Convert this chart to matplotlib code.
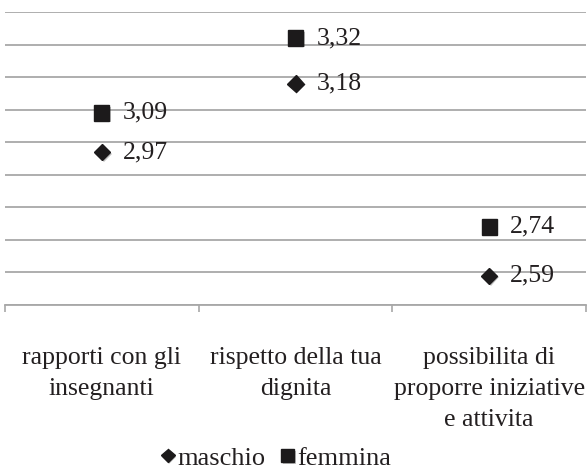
import matplotlib.pyplot as plt
import matplotlib.patheffects as pe
import numpy as np

plt.rcParams["font.family"] = ["Liberation Serif", "DejaVu Serif"]

categories = [
    "rapporti con gli\ninsegnanti",
    "rispetto della tua\ndignita",
    "possibilita di\nproporre iniziative\ne attivita",
]
maschio = [2.97, 3.18, 2.59]
femmina = [3.09, 3.32, 2.74]
series_labels = ["maschio", "femmina"]

TXT = "#231f20"
MK = "#1c1a1b"
GRID = "#a8a8a8"

fig = plt.figure(figsize=(5.87, 4.70), dpi=100)
ax = fig.add_axes([5 / 587, (470 - 305) / 470, 581 / 587, 293 / 470])

x = np.arange(len(categories))
shadow = [pe.SimplePatchShadow(offset=(1.2, -1.2), alpha=0.25), pe.Normal()]
ax.plot(x, maschio, linestyle="none", marker="D", ms=8.3, color=MK,
        label=series_labels[0], path_effects=shadow, zorder=3)
ax.plot(x, femmina, linestyle="none", marker="s", ms=11, color=MK,
        label=series_labels[1], path_effects=shadow, zorder=3)

for xi, v in zip(x, maschio):
    ax.annotate(f"{v:.2f}".replace(".", ","), (xi, v), xytext=(15, 0),
                textcoords="offset points", va="center", ha="left",
                fontsize=18.5, color=TXT)
for xi, v in zip(x, femmina):
    ax.annotate(f"{v:.2f}".replace(".", ","), (xi, v), xytext=(15, 0),
                textcoords="offset points", va="center", ha="left",
                fontsize=18.5, color=TXT)

ax.set_xlim(-0.5, len(categories) - 0.5)
ax.set_ylim(2.5, 3.4)
ax.set_yticks(np.arange(2.5, 3.41, 0.1))
ax.yaxis.grid(True, color=GRID, linewidth=1.3)
ax.set_axisbelow(True)
ax.tick_params(axis="y", left=False, labelleft=False)

for s in ["top", "right", "left"]:
    ax.spines[s].set_visible(False)
ax.spines["bottom"].set_color(GRID)
ax.spines["bottom"].set_linewidth(1.3)

ax.set_xticks(np.arange(-0.5, len(categories), 1.0))
ax.set_xticklabels([])
ax.tick_params(axis="x", which="major", direction="out", length=5,
               color=GRID, width=1.2)
ax.set_xticks(x, minor=True)
ax.set_xticklabels(categories, minor=True, fontsize=18.5, color=TXT)
for t in ax.get_xticklabels(minor=True):
    t.set_linespacing(1.55)
ax.tick_params(axis="x", which="minor", length=0, pad=30)

fig.legend(loc="center", bbox_to_anchor=(0.47, 1 - 458 / 470), ncol=2,
           frameon=False, fontsize=19, handlelength=0.5, handletextpad=0.1,
           columnspacing=0.6, markerscale=0.85, labelcolor=TXT)

fig.savefig("out.png", dpi=100)
